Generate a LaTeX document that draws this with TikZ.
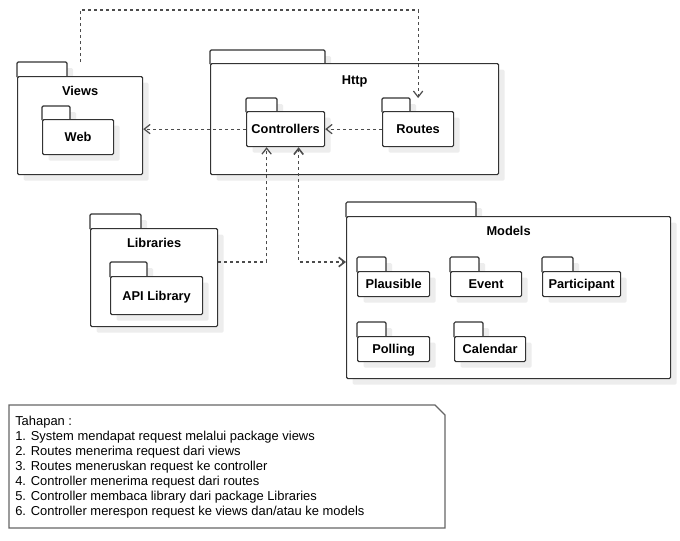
\documentclass[tikz,border=0pt]{standalone}
\usepackage{fontspec}
\setmainfont{Liberation Sans}
\usetikzlibrary{arrows.meta,positioning,shadows}

\tikzset{
  pkgline/.style={draw=black!80, line width=0.9pt, rounded corners=1pt},
  pkgtab/.style={pkgline, fill=white,
    drop shadow={shadow xshift=4.5pt, shadow yshift=-4.5pt, fill=black!7, opacity=1}},
  pkg/.style={pkgtab, inner sep=0pt, anchor=north west,
    font=\fontsize{9.6}{11}\selectfont\bfseries, text height=6.9pt, text depth=0pt},
  pkgtitle/.style={draw=none, fill=none, anchor=base, yshift=-14.25pt, inner sep=0pt,
    font=\fontsize{9.6}{11}\selectfont\bfseries},
  dep/.style={draw=black!70, line width=0.9pt, dash pattern=on 2.25pt off 2.25pt,
    -{Straight Barb[length=4.5pt,width=7pt]}},
  notebox/.style={draw=black!60, line width=0.8pt, fill=white},
  notetext/.style={anchor=north west, inner sep=0pt, align=left,
    font=\fontsize{9.7}{11.25}\selectfont}
}

\begin{document}
\begin{tikzpicture}[x=0.75pt,y=-0.75pt]
\useasboundingbox (0,0) rectangle (680,540);

% views
\draw[pkgtab] (17,77) |- (67,62) -- (67,77);
\node[pkg, minimum width=125*0.75pt, minimum height=98*0.75pt,
  label={[pkgtitle]north:Views}] (views) at (17,76) {};
\draw[pkgtab] (42,120) |- (70,106) -- (70,120);
\node[pkg, minimum width=71*0.75pt, minimum height=35*0.75pt] (web) at (42,119) {Web};

% http
\draw[pkgtab] (210,64) |- (325,50) -- (325,64);
\node[pkg, minimum width=288*0.75pt, minimum height=111*0.75pt,
  label={[pkgtitle,yshift=-1.5pt]north:Http}] (http) at (210,63) {};
\draw[pkgtab] (246,112) |- (277,98) -- (277,112);
\node[pkg, minimum width=78*0.75pt, minimum height=35*0.75pt] (ctrl) at (246,111) {Controllers};
\draw[pkgtab] (382,112) |- (410,98) -- (410,112);
\node[pkg, minimum width=71*0.75pt, minimum height=35*0.75pt] (routes) at (382,111) {Routes};

% libraries
\draw[pkgtab] (90,229) |- (141,214) -- (141,229);
\node[pkg, minimum width=127*0.75pt, minimum height=98*0.75pt,
  label={[pkgtitle]north:Libraries}] (libs) at (90,228) {};
\draw[pkgtab] (110,277) |- (147,262) -- (147,277);
\node[pkg, minimum width=92*0.75pt, minimum height=38*0.75pt] (api) at (110,276) {API Library};

% models
\draw[pkgtab] (346,217) |- (476,202) -- (476,217);
\node[pkg, minimum width=324*0.75pt, minimum height=162*0.75pt,
  label={[pkgtitle]north:Models}] (models) at (346,216) {};
\foreach \x/\y/\t in {357/257/386, 450/257/479, 542/257/573, 357/322/386, 454/322/483}
  \draw[pkgtab] (\x,\y+15) |- (\t,\y) -- (\t,\y+15);
\node[pkg, minimum width=72*0.75pt, minimum height=25*0.75pt] (plausible) at (357,271) {Plausible};
\node[pkg, minimum width=71*0.75pt, minimum height=25*0.75pt] (event) at (450,271) {Event};
\node[pkg, minimum width=78*0.75pt, minimum height=25*0.75pt] (participant) at (542,271) {Participant};
\node[pkg, minimum width=72*0.75pt, minimum height=25*0.75pt] (polling) at (357,336) {Polling};
\node[pkg, minimum width=71*0.75pt, minimum height=25*0.75pt] (calendar) at (454,336) {Calendar};

% dependencies
\coordinate (views-top) at ([yshift=10.5pt]views.north);
\coordinate (routes-top) at ([yshift=9.75pt]routes.north);
\draw[dep] (views-top) -- (views-top |- 0,10) -| (routes-top);
\draw[dep] (routes.west) -- (ctrl.east);
\draw[dep] (ctrl.west) -- (ctrl.west -| views.east);
\draw[dep] (libs.east |- 0,262) -| ([xshift=-14.25pt]ctrl.south);
\draw[dep, line width=1.2pt, {Straight Barb[length=4.5pt,width=7pt]}-{Straight Barb[length=4.5pt,width=7pt]}]
  ([xshift=9.75pt]ctrl.south) |- (models.west |- 0,262);

% note
\draw[notebox] (9,405) -- (435,405) -- (445,415) -- (445,528) -- (9,528) -- cycle;
\node[notetext] (steps) at (15,416) {Tahapan :\\
  1. System mendapat request melalui package views\\
  2. Routes menerima request dari views\\
  3. Routes meneruskan request ke controller\\
  4. Controller menerima request dari routes\\
  5. Controller membaca library dari package Libraries\\
  6. Controller merespon request ke views dan/atau ke models};
\end{tikzpicture}
\end{document}
